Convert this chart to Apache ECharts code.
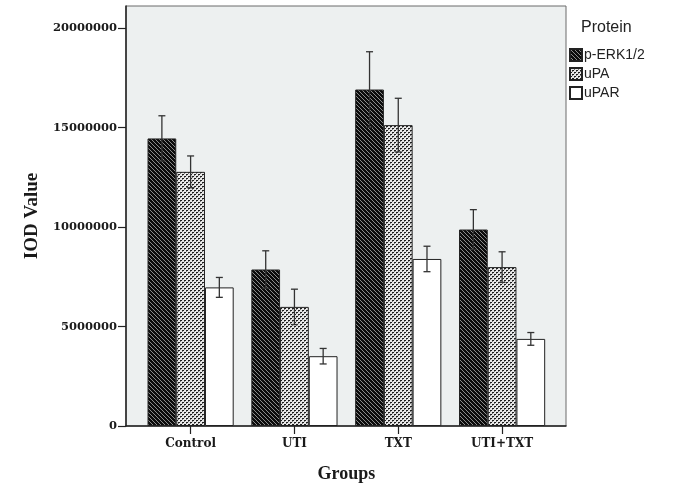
<!DOCTYPE html>
<html>
<head>
<meta charset="utf-8">
<script src="https://cdn.jsdelivr.net/npm/echarts@6/dist/echarts.min.js"></script>
<style>
html,body{margin:0;padding:0;background:#fff;}
#chart{width:685px;height:489px;}
</style>
</head>
<body>
<div id="chart"></div>
<script>
// ---- data ----
const groups = ['Control', 'UTI', 'TXT', 'UTI+TXT'];
const proteins = ['p-ERK1/2', 'uPA', 'uPAR'];
const pERK = [14460000, 7870000, 16920000, 9880000];
const pERKErr = [1140000, 940000, 1900000, 1000000];
const uPA = [12780000, 5990000, 15130000, 7990000];
const uPAErr = [800000, 890000, 1350000, 770000];
const uPAR = [6970000, 3510000, 8400000, 4380000];
const uPARErr = [500000, 390000, 640000, 320000];
const yTicks = [0, 5000000, 10000000, 15000000, 20000000];

// ---- patterns ----
function makeTile(size, painter) {
  const c = document.createElement('canvas');
  c.width = size; c.height = size;
  const ctx = c.getContext('2d');
  painter(ctx, size);
  return c;
}
const hatch = makeTile(4, function (ctx, s) {
  ctx.fillStyle = '#0c0c0c';
  ctx.fillRect(0, 0, s, s);
  for (let y = 0; y < s; y++) {
    for (let x = 0; x < s; x++) {
      const d = ((x - y) % s + s) % s;
      if (d === 0) { ctx.fillStyle = '#8c8c8c'; ctx.fillRect(x, y, 1, 1); }
    }
  }
});
const dots = makeTile(4, function (ctx, s) {
  ctx.fillStyle = '#e9e9e9';
  ctx.fillRect(0, 0, s, s);
  ctx.fillStyle = '#1e1e1e';
  ctx.fillRect(0, 0, 2, 1);
  ctx.fillRect(2, 2, 2, 1);
  ctx.fillStyle = '#7a7a7a';
  ctx.fillRect(0, 1, 1, 1);
  ctx.fillRect(2, 3, 1, 1);
});
const fills = [
  { image: hatch, repeat: 'repeat' },
  { image: dots, repeat: 'repeat' },
  '#ffffff'
];
const means = [pERK, uPA, uPAR];
const errs = [pERKErr, uPAErr, uPARErr];
const CAT_GAP = 0.17;

const chart = echarts.init(document.getElementById('chart'), null, { renderer: 'canvas' });

const series = [];
proteins.forEach(function (name, k) {
  series.push({
    name: name,
    type: 'bar',
    xAxisIndex: 1,
    yAxisIndex: 1,
    barGap: '0%',
    barCategoryGap: (CAT_GAP * 100) + '%',
    data: means[k],
    itemStyle: { color: fills[k], borderColor: '#222', borderWidth: 1 },
    emphasis: { disabled: true },
    z: 2
  });
});
proteins.forEach(function (name, k) {
  series.push({
    name: name + ' error',
    type: 'custom',
    xAxisIndex: 1,
    yAxisIndex: 1,
    z: 5,
    silent: true,
    data: means[k].map(function (m, i) { return [i, m, errs[k][i]]; }),
    renderItem: function (params, api) {
      const ci = api.value(0), m = api.value(1), e = api.value(2);
      const band = api.size([1, 0])[0];
      const bw = band * (1 - CAT_GAP) / 3;
      const off = (k - 1) * bw;
      const top = api.coord([ci, m + e]);
      const bot = api.coord([ci, m - e]);
      const x = top[0] + off;
      const cap = 3.5;
      const st = { stroke: '#333', lineWidth: 1.3 };
      return {
        type: 'group',
        children: [
          { type: 'line', shape: { x1: x, y1: top[1], x2: x, y2: bot[1] }, style: st },
          { type: 'line', shape: { x1: x - cap, y1: top[1], x2: x + cap, y2: top[1] }, style: st },
          { type: 'line', shape: { x1: x - cap, y1: bot[1], x2: x + cap, y2: bot[1] }, style: st }
        ]
      };
    }
  });
});

const yMax = 21120000;
const option = {
  animation: false,
  backgroundColor: '#ffffff',
  title: {
    text: 'Protein',
    left: 576,
    top: 15,
    textStyle: { fontFamily: 'Liberation Sans', fontWeight: 'normal', fontSize: 16, color: '#222' }
  },
  legend: {
    data: proteins,
    orient: 'vertical',
    left: 564,
    top: 43,
    itemWidth: 12,
    itemHeight: 12,
    itemGap: 5,
    icon: 'rect',
    selectedMode: false,
    textStyle: { fontFamily: 'Liberation Sans', fontSize: 14, color: '#222', padding: [0, 0, 0, -3] }
  },
  grid: [
    { left: 126, top: 6, width: 440, height: 420, show: true, backgroundColor: '#edf0f0', borderColor: '#6a6a6a', borderWidth: 1 },
    { left: 138.7, top: 6, width: 415.3, height: 420, show: false }
  ],
  xAxis: [
    {
      gridIndex: 0, type: 'value', min: 0, max: 1,
      axisLine: { show: true, lineStyle: { color: '#222', width: 1.5 } },
      axisTick: { show: false }, axisLabel: { show: false }, splitLine: { show: false }
    },
    {
      gridIndex: 1, type: 'category', data: groups, boundaryGap: true,
      name: 'Groups', nameLocation: 'middle', nameGap: 39,
      nameTextStyle: { fontFamily: 'Liberation Serif', fontWeight: 'bold', fontSize: 18, color: '#1a1a1a' },
      axisLine: { show: false },
      axisTick: { show: true, alignWithLabel: true, length: 8, lineStyle: { color: '#222', width: 1.2 } },
      axisLabel: { margin: 12, fontFamily: 'DejaVu Serif', fontWeight: 'bold', fontSize: 12, color: '#1a1a1a' },
      splitLine: { show: false }
    }
  ],
  yAxis: [
    {
      gridIndex: 0, type: 'value', min: 0, max: yMax,
      name: 'IOD Value', nameLocation: 'middle', nameGap: 84,
      nameTextStyle: { fontFamily: 'Liberation Serif', fontWeight: 'bold', fontSize: 19, color: '#1a1a1a' },
      axisLine: { show: true, lineStyle: { color: '#222', width: 1.5 } },
      axisTick: { show: true, length: 8, customValues: yTicks, lineStyle: { color: '#222', width: 1.2 } },
      axisLabel: {
        margin: 9, customValues: yTicks,
        fontFamily: 'DejaVu Serif', fontWeight: 'bold', fontSize: 11.5, color: '#1a1a1a',
        formatter: function (v) { return String(v); }
      },
      splitLine: { show: false }
    },
    {
      gridIndex: 1, type: 'value', min: 0, max: yMax, show: false,
      splitLine: { show: false }
    }
  ],
  series: series
};
chart.setOption(option);
</script>
</body>
</html>
